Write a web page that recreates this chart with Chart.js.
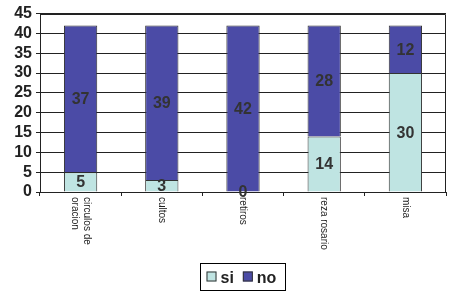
<!DOCTYPE html>
<html>
<head>
<meta charset="utf-8">
<script src="https://cdn.jsdelivr.net/npm/chart.js@4/dist/chart.umd.min.js"></script>
<style>
  html, body { margin: 0; padding: 0; background: #fff; }
  #wrap { width: 453px; height: 297px; }
</style>
</head>
<body>
<div id="wrap"><canvas id="c"></canvas></div>
<script>
// datos
const categorias = [['circulos de', 'oracion'], ['cultos'], ['retiros'], ['reza rosario'], ['misa']];
const si = [5, 3, 0, 14, 30];
const no = [37, 39, 42, 28, 12];
const yTicks = [0, 5, 10, 15, 20, 25, 30, 35, 40, 45];

const COL_SI = '#bfe4e2';
const COL_NO = '#4b4ba6';

// valores dentro de cada tramo
const valueLabels = {
  id: 'valueLabels',
  afterDatasetsDraw(chart) {
    const ctx = chart.ctx;
    ctx.save();
    ctx.font = 'bold 16px Arial, "Liberation Sans", sans-serif';
    ctx.fillStyle = '#333';
    ctx.textAlign = 'center';
    ctx.textBaseline = 'middle';
    chart.data.datasets.forEach((ds, di) => {
      const meta = chart.getDatasetMeta(di);
      meta.data.forEach((bar, i) => {
        const y = (bar.y + bar.base) / 2;
        ctx.fillText(String(ds.data[i]), bar.x, y + 1);
      });
    });
    ctx.restore();
  }
};

// etiquetas del eje x giradas (leen de arriba a abajo), borde del área y leyenda
const extras = {
  id: 'extras',
  afterDraw(chart) {
    const ctx = chart.ctx;
    const a = chart.chartArea;
    const x = chart.scales.x;
    ctx.save();
    // borde del área
    ctx.strokeStyle = '#222';
    ctx.lineWidth = 1;
    ctx.beginPath();
    ctx.moveTo(Math.round(a.left) + 0.5, Math.round(a.top) + 0.5);
    ctx.lineTo(Math.round(a.right) - 0.5, Math.round(a.top) + 0.5);
    ctx.lineTo(Math.round(a.right) - 0.5, Math.round(a.bottom));
    ctx.stroke();

    // etiquetas
    ctx.font = '10px Arial, "Liberation Sans", sans-serif';
    ctx.fillStyle = '#222';
    ctx.textAlign = 'left';
    ctx.textBaseline = 'middle';
    categorias.forEach((lines, i) => {
      const cx = x.getPixelForValue(i);
      const lh = 12;
      const n = lines.length;
      lines.forEach((t, k) => {
        const off = ((n - 1) / 2 - k) * lh;
        ctx.save();
        ctx.translate(cx + off, a.bottom + 5);
        ctx.rotate(Math.PI / 2);
        ctx.fillText(t, 0, 0);
        ctx.restore();
      });
    });

    // leyenda
    const lx = 200.5, ly = 263.5, lw = 85, lh2 = 27;
    ctx.strokeStyle = '#000';
    ctx.strokeRect(lx, ly, lw, lh2);
    ctx.font = 'bold 16px Arial, "Liberation Sans", sans-serif';
    ctx.textBaseline = 'alphabetic';
    const items = chart.data.datasets.map(d => [d.label, d.backgroundColor]);
    let px = lx + 6;
    items.forEach(([label, col]) => {
      ctx.fillStyle = col;
      ctx.fillRect(px, ly + 8, 10, 10);
      ctx.strokeStyle = '#333';
      ctx.strokeRect(px + 0.5, ly + 8.5, 9, 9);
      ctx.fillStyle = '#222';
      ctx.fillText(label, px + 14, ly + 19);
      px += 14 + ctx.measureText(label).width + 9;
    });
    ctx.restore();
  }
};

new Chart(document.getElementById('c'), {
  type: 'bar',
  data: {
    labels: categorias,
    datasets: [
      { label: 'si', data: si, backgroundColor: COL_SI, borderColor: '#333', borderWidth: 1,
        barPercentage: 0.41, categoryPercentage: 1 },
      { label: 'no', data: no, backgroundColor: COL_NO, borderColor: '#333', borderWidth: 1,
        barPercentage: 0.41, categoryPercentage: 1 },
    ]
  },
  options: {
    responsive: true,
    maintainAspectRatio: false,
    animation: false,
    layout: { padding: { top: 9, right: 7, bottom: 40, left: 0 } },
    plugins: { legend: { display: false }, tooltip: { enabled: false } },
    scales: {
      x: {
        stacked: true,
        grid: { display: true, drawOnChartArea: false, offset: true, tickLength: 4, color: '#222' },
        border: { color: '#222' },
        ticks: { display: false },
        afterFit: s => { s.height = 65; },
      },
      y: {
        stacked: true,
        min: 0, max: 45,
        afterBuildTicks: s => { s.ticks = yTicks.map(v => ({ value: v })); },
        grid: { color: '#222', tickLength: 4 },
        border: { color: '#222' },
        ticks: {
          color: '#222',
          padding: 4,
          autoSkip: false,
          font: { family: 'Arial, "Liberation Sans", sans-serif', size: 16, weight: 'bold' },
        },
        afterFit: s => { s.width = 40; },
      }
    }
  },
  plugins: [valueLabels, extras]
});
</script>
</body>
</html>
